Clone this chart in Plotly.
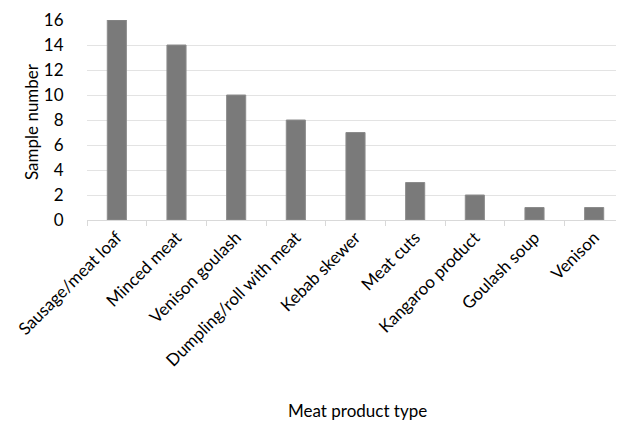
import plotly.graph_objects as go

categories = ["Sausage/meat loaf", "Minced meat", "Venison goulash", "Dumpling/roll with meat",
              "Kebab skewer", "Meat cuts", "Kangaroo product", "Goulash soup", "Venison"]
values = [16, 14, 10, 8, 7, 3, 2, 1, 1]
y_ticks = [0, 2, 4, 6, 8, 10, 12, 14, 16]

FONT = "Lato"
W, H = 616, 413
L, T, B, R = 79, 12, 201, 0

fig = go.Figure(go.Bar(
    x=categories, y=values,
    marker=dict(color="#7a7a7a", line=dict(color="#8c8c8c", width=1)),
))

fig.update_layout(
    width=W, height=H,
    margin=dict(l=L, r=R, t=T, b=B, autoexpand=False),
    paper_bgcolor="white", plot_bgcolor="white",
    bargap=0.68,
    font=dict(family=FONT, size=17, color="#000000"),
    showlegend=False,
    xaxis=dict(
        tickangle=-45, tickson="boundaries", ticks="outside", ticklen=5,
        tickcolor="#d9d9d9", showline=True, linecolor="#d9d9d9", linewidth=1,
        showgrid=False, automargin=False, tickfont=dict(size=17),
    ),
    yaxis=dict(
        range=[0, 16], tickvals=y_ticks, showgrid=True, gridcolor="#e3e3e3",
        gridwidth=1, zeroline=False, showline=False, automargin=False,
        ticks="outside", ticklen=19, tickcolor="rgba(0,0,0,0)",
        tickfont=dict(size=17),
    ),
    annotations=[
        dict(text="Sample number", xref="paper", yref="paper",
             xanchor="center", yanchor="middle",
             showarrow=False, textangle=-90, font=dict(size=17)),
        dict(text="Meat product type", xref="paper", yref="paper",
             xanchor="center", yanchor="middle",
             showarrow=False, font=dict(size=17)),
    ],
)
# place titles at page-pixel positions (figure sits at 8px offset in page)
plot_w = W - L - R
plot_h = H - T - B
x0, y0 = 8 + L, 8 + T + plot_h  # page px of plot origin
fig.layout.annotations[0].update(x=(31 - x0) / plot_w, y=(y0 - 122) / plot_h)
fig.layout.annotations[1].update(x=(357 - x0) / plot_w, y=(y0 - 410) / plot_h)

fig.write_html("out.html")
